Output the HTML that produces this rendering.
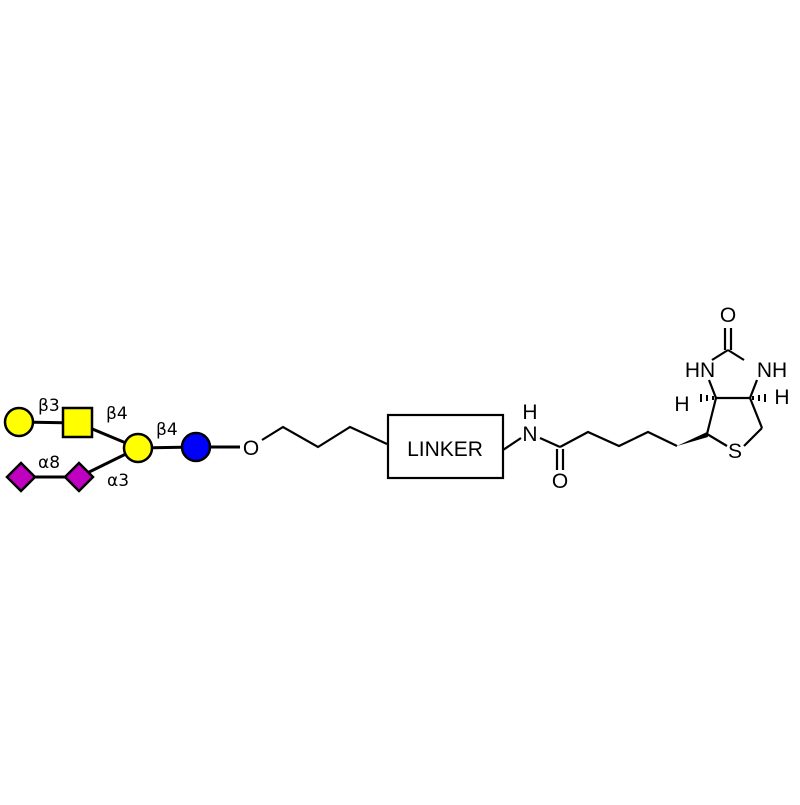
<!DOCTYPE html>
<html><head><style>body{margin:0;background:#fff}</style></head><body>
<svg width="800" height="800" viewBox="0 0 800 800" xmlns="http://www.w3.org/2000/svg" font-family="Liberation Sans, sans-serif">
<rect width="800" height="800" fill="#fff"/>
<g stroke="#000" stroke-width="3" fill="none">
<line x1="19" y1="422" x2="78" y2="423"/>
<line x1="78" y1="423" x2="138" y2="448"/>
<line x1="21" y1="477" x2="79" y2="477"/>
<line x1="79" y1="477" x2="138" y2="448"/>
<line x1="138" y1="448" x2="196" y2="447"/>
<line x1="196" y1="447" x2="240" y2="447"/>
</g>
<g stroke="#000" stroke-width="2.5">
<circle cx="19" cy="422" r="14" fill="#ffff00"/>
<rect x="63" y="408" width="29" height="29" fill="#ffff00"/>
<circle cx="138" cy="448" r="14" fill="#ffff00"/>
<circle cx="196" cy="447" r="14" fill="#0000ff"/>
<polygon points="21,463 35,477 21,491 7,477" fill="#c000c0"/>
<polygon points="79,463 93,477 79,491 65,477" fill="#c000c0"/>
</g>
<g font-size="17" fill="#000" font-family="DejaVu Sans, sans-serif">
<text x="38" y="411">β3</text>
<text x="106" y="419">β4</text>
<text x="156" y="435">β4</text>
<text x="38" y="468">α8</text>
<text x="107" y="486">α3</text>
</g>
<g font-size="21" fill="#000">
<text x="251" y="455" text-anchor="middle">O</text>
<text x="445" y="456" text-anchor="middle">LINKER</text>
<text x="530" y="441" text-anchor="middle">N</text>
<text x="530" y="419" text-anchor="middle">H</text>
<text x="560" y="488" text-anchor="middle">O</text>
<text x="735" y="458" text-anchor="middle">S</text>
<text x="700" y="377" text-anchor="middle">HN</text>
<text x="772" y="377" text-anchor="middle">NH</text>
<text x="728" y="322" text-anchor="middle">O</text>
<text x="682" y="411" text-anchor="middle">H</text>
<text x="782" y="404" text-anchor="middle">H</text>
</g>
<g stroke="#000" stroke-width="2.2" fill="none">
<polyline points="262,440 283,427 318,447 350,427 387,444"/>
<rect x="388" y="415" width="115" height="63"/>
<line x1="503" y1="450" x2="521" y2="438"/>
<line x1="540" y1="438" x2="560" y2="447"/>
<polyline points="560,447 588,432 619,446 648,432 677,446"/>
<line x1="557" y1="449" x2="557" y2="470"/>
<line x1="563" y1="449" x2="563" y2="470"/>
<line x1="707" y1="434" x2="727" y2="446"/>
<line x1="744" y1="446" x2="762" y2="428"/>
<line x1="762" y1="428" x2="750" y2="398"/>
<line x1="707" y1="434" x2="716" y2="398"/>
<line x1="716" y1="398" x2="750" y2="398"/>
<line x1="716" y1="398" x2="709" y2="380"/>
<line x1="750" y1="398" x2="757" y2="380"/>
<line x1="712" y1="360" x2="728" y2="350"/>
<line x1="744" y1="360" x2="728" y2="350"/>
<line x1="725" y1="350" x2="725" y2="328"/>
<line x1="731" y1="350" x2="731" y2="328"/>
</g>
<polygon points="677,446 707,432 708,437" fill="#000"/>
<g stroke="#000" stroke-width="2">
<line x1="713" y1="396" x2="713" y2="400"/>
<line x1="707" y1="395" x2="707" y2="401"/>
<line x1="701" y1="394" x2="701" y2="402"/>
<line x1="753" y1="396" x2="753" y2="400"/>
<line x1="759" y1="395" x2="759" y2="401"/>
<line x1="765" y1="394" x2="765" y2="402"/>
</g>
</svg>
</body></html>
